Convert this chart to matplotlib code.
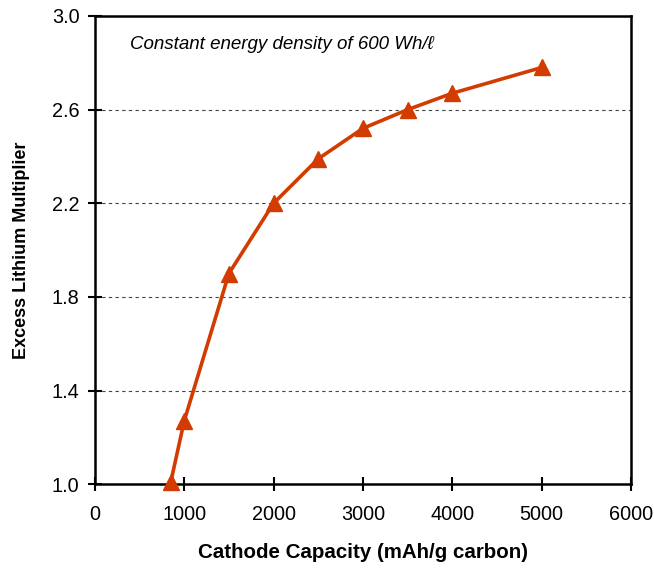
import matplotlib.pyplot as plt

plt.rcParams['font.family'] = ['Liberation Sans', 'DejaVu Sans']

# cathode capacity (mAh/g carbon) vs excess lithium multiplier
capacity = [850, 1000, 1500, 2000, 2500, 3000, 3500, 4000, 5000]
multiplier = [1.01, 1.27, 1.90, 2.20, 2.39, 2.52, 2.60, 2.67, 2.78]

xticks = [0, 1000, 2000, 3000, 4000, 5000, 6000]
yticks = [1.0, 1.4, 1.8, 2.2, 2.6, 3.0]

fig = plt.figure(figsize=(6.54, 5.71), dpi=100)
ax = fig.add_axes([0.145, 0.152, 0.82, 0.82])

ax.plot(capacity, multiplier, color='#d23c00', linewidth=2.6,
        marker='^', markersize=12, clip_on=False, zorder=3)

ax.set_xlim(0, 6000)
ax.set_ylim(1.0, 3.0)
ax.set_xticks(xticks)
ax.set_yticks(yticks)
ax.set_yticklabels([f"{v:.1f}" for v in yticks])
ax.tick_params(direction='inout', length=10, width=1.5, labelsize=14.3)
ax.tick_params(axis='x', pad=10)
ax.tick_params(axis='y', pad=6)

for s in ax.spines.values():
    s.set_linewidth(1.8)

ax.grid(axis='y', color='#444444', linestyle=(0, (3, 3)), linewidth=0.8)

ax.set_xlabel("Cathode Capacity (mAh/g carbon)", fontsize=14.8,
              fontweight='bold', labelpad=14)
ax.set_ylabel("Excess Lithium Multiplier", fontsize=13,
              fontweight='bold', labelpad=16)

ax.text(0.065, 0.93, "Constant energy density of 600 Wh/\u2113",
        transform=ax.transAxes, fontsize=13.5, style='italic')

plt.savefig("out.png", dpi=100)
